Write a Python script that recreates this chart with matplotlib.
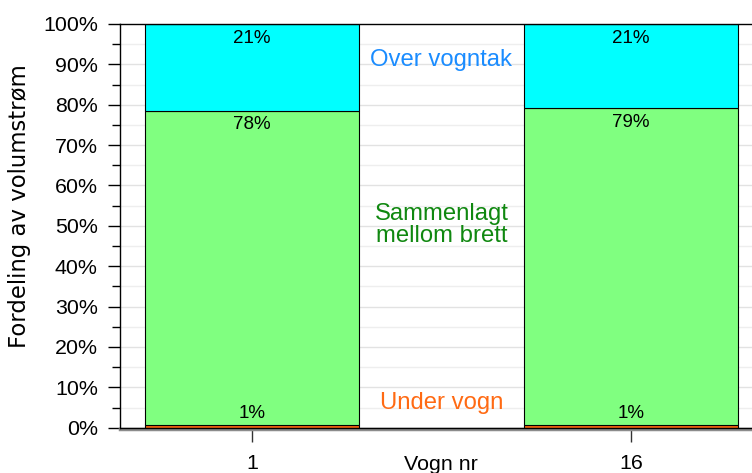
import matplotlib
matplotlib.use("Agg")
import matplotlib.pyplot as plt
import numpy as np
from matplotlib.ticker import MultipleLocator, FuncFormatter

categories = ["1", "16"]
under_vogn = [0.6, 0.6]
mellom_brett = [77.9, 78.6]
over_vogntak = [21.4, 20.8]

series_names = ["Under vogn", "Sammenlagt\nmellom brett", "Over vogntak"]
series_colors = ["#FF6A13", "#80FF80", "#00FFFF"]
text_colors = ["#FF6A13", "#108810", "#1A8CFF"]

plt.rcParams['font.family'] = ['Liberation Sans', 'DejaVu Sans']

fig = plt.figure(figsize=(7.52, 4.73), dpi=100)
ax = fig.add_axes([120/752, 1-427.7/473, 643/752, (427.7-24)/473])

x = np.arange(len(categories))
w = 0.565
b0 = np.zeros(len(categories))
segments = [under_vogn, mellom_brett, over_vogntak]
bottoms = []
for vals, col in zip(segments, series_colors):
    ax.bar(x, vals, w, bottom=b0, color=col, edgecolor='black', linewidth=0.8, zorder=3)
    bottoms.append(b0.copy())
    b0 = b0 + np.array(vals)

fs_val = 13.5
for i in range(len(categories)):
    top_over = bottoms[2][i] + over_vogntak[i]
    ax.annotate(f"{round(over_vogntak[i])}%", (x[i], top_over), xytext=(0, -4),
                textcoords='offset points', ha='center', va='top', fontsize=fs_val, zorder=5)
    top_mid = bottoms[1][i] + mellom_brett[i]
    ax.annotate(f"{round(mellom_brett[i])}%", (x[i], top_mid), xytext=(0, -4),
                textcoords='offset points', ha='center', va='top', fontsize=fs_val, zorder=5)
    ax.annotate(f"{round(under_vogn[i])}%", (x[i], 0), xytext=(0, 4),
                textcoords='offset points', ha='center', va='bottom', fontsize=fs_val, zorder=5)

fs_name = 17.2
ax.text(0.5, 91.0, series_names[2], color=text_colors[2], ha='center', va='center', fontsize=fs_name, zorder=5)
ax.text(0.5, 50.2, series_names[1], color=text_colors[1], ha='center', va='center', fontsize=fs_name,
        linespacing=1.0, zorder=5)
ax.text(0.5, 6.1, series_names[0], color=text_colors[0], ha='center', va='center', fontsize=fs_name, zorder=5)

ax.set_xlim(-0.348, 1.348)
ax.set_ylim(0, 100)
ax.yaxis.set_major_locator(MultipleLocator(10))
ax.yaxis.set_minor_locator(MultipleLocator(5))
ax.yaxis.set_major_formatter(FuncFormatter(lambda v, p: f"{int(round(v))}%"))
ax.tick_params(axis='y', which='major', length=9, width=1, labelsize=15.4, pad=7)
ax.tick_params(axis='y', which='minor', length=6, width=1)
ax.set_xticks(x)
ax.set_xticklabels(categories)
ax.tick_params(axis='x', length=10, width=1, labelsize=15.4, pad=9, color='#333333')

for v in np.arange(5, 100, 5):
    ax.axhline(v, color='#e2e2e2' if v % 10 == 0 else '#eeeeee', lw=1, zorder=1)
ax.axhline(-0.4, color='#8c8c8c', lw=2.5, zorder=2, clip_on=False)

ax.spines['right'].set_visible(False)
for s in ['left', 'top', 'bottom']:
    ax.spines[s].set_linewidth(1)
    ax.spines[s].set_zorder(4)

fig.text(19.5/752, 1-206/473, "Fordeling av volumstrøm", rotation=90, ha='center', va='center',
         fontsize=16.4, family=['DejaVu Sans'])
fig.text(441/752, 1-470/473, "Vogn nr", ha='center', va='baseline', fontsize=15.4)

fig.savefig("out.png", dpi=100)
